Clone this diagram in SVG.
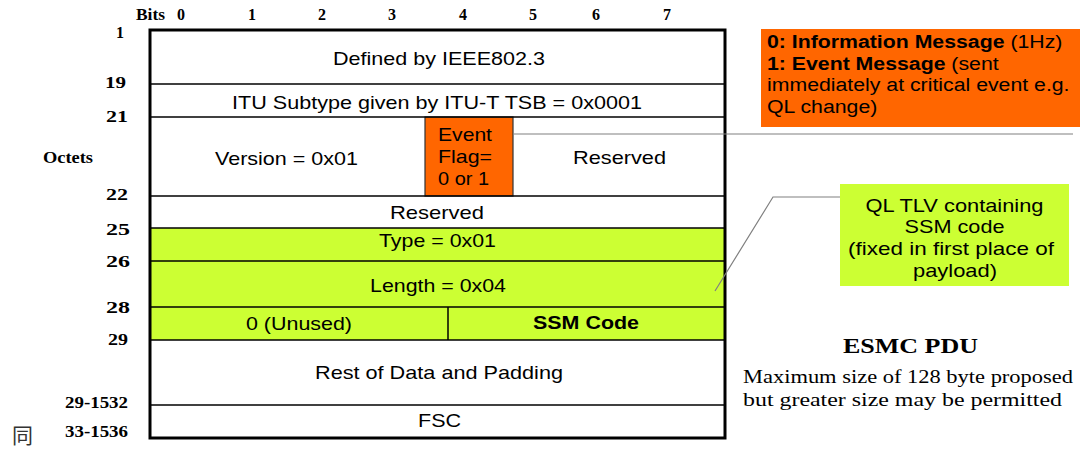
<svg xmlns="http://www.w3.org/2000/svg" width="1081" height="452" viewBox="0 0 1081 452">
<style>
.s{font-family:"Liberation Sans",Arial,sans-serif;font-size:19px;fill:#000}
.c{text-anchor:middle}
.b{font-weight:bold}
.n{font-family:"Liberation Serif","Times New Roman",serif;font-weight:bold;font-size:16px;fill:#000}
.r{text-anchor:end}
.ln{stroke:#000;stroke-width:1.5;fill:none}
.conn{stroke:#808080;stroke-width:1.2;fill:none}
.o{font-family:"Liberation Sans",Arial,sans-serif;font-size:19px;fill:#000}
.t{font-family:"Liberation Serif","Times New Roman",serif;fill:#000}
</style>
<rect width="1081" height="452" fill="#fff"/>
<g id="axis-labels">
<text class="n" x="136" y="20" textLength="29" lengthAdjust="spacingAndGlyphs">Bits</text>
<text class="n c" x="181" y="20">0</text>
<text class="n c" x="252" y="20">1</text>
<text class="n c" x="322" y="20">2</text>
<text class="n c" x="392" y="20">3</text>
<text class="n c" x="463" y="20">4</text>
<text class="n c" x="533" y="20">5</text>
<text class="n c" x="596" y="20">6</text>
<text class="n c" x="667" y="20">7</text>
<text class="n r" x="124" y="38">1</text>
<text class="n r" x="126" y="88" textLength="21" lengthAdjust="spacingAndGlyphs">19</text>
<text class="n r" x="128" y="122" textLength="22" lengthAdjust="spacingAndGlyphs">21</text>
<text class="n" x="43" y="163" textLength="50" lengthAdjust="spacingAndGlyphs">Octets</text>
<text class="n r" x="128" y="200" textLength="22" lengthAdjust="spacingAndGlyphs">22</text>
<text class="n r" x="130" y="235" textLength="24" lengthAdjust="spacingAndGlyphs">25</text>
<text class="n r" x="130" y="267" textLength="24" lengthAdjust="spacingAndGlyphs">26</text>
<text class="n r" x="130" y="313" textLength="24" lengthAdjust="spacingAndGlyphs">28</text>
<text class="n r" x="128" y="345" textLength="20" lengthAdjust="spacingAndGlyphs">29</text>
<text class="n" x="65" y="408" textLength="63" lengthAdjust="spacingAndGlyphs">29-1532</text>
<text class="n" x="65" y="437" textLength="63" lengthAdjust="spacingAndGlyphs">33-1536</text>
<text x="12" y="443" font-family="'Noto Sans CJK SC',sans-serif" font-size="21" fill="#333">同</text>
</g>
<g id="pdu">
<rect x="150" y="228" width="575" height="112" fill="#CCFF33"/>
<rect x="425" y="117" width="88" height="79" fill="#FF6600" stroke="#333" stroke-width="1.2"/>
<line class="ln" x1="150" y1="84" x2="725" y2="84"/>
<line class="ln" x1="150" y1="117" x2="725" y2="117"/>
<line class="ln" x1="150" y1="196" x2="725" y2="196"/>
<line class="ln" x1="150" y1="228" x2="725" y2="228"/>
<line class="ln" x1="150" y1="261" x2="725" y2="261"/>
<line class="ln" x1="150" y1="307" x2="725" y2="307"/>
<line class="ln" x1="150" y1="340" x2="725" y2="340"/>
<line class="ln" x1="150" y1="405" x2="725" y2="405"/>
<line class="ln" x1="448" y1="307" x2="448" y2="340"/>
<rect x="150" y="30" width="575" height="408" fill="none" stroke="#000" stroke-width="3"/>
<text class="s c" x="439" y="65" textLength="212" lengthAdjust="spacingAndGlyphs">Defined by IEEE802.3</text>
<text class="s c" x="437" y="109" textLength="410" lengthAdjust="spacingAndGlyphs">ITU Subtype given by ITU-T TSB = 0x0001</text>
<text class="s c" x="286.5" y="165" textLength="143" lengthAdjust="spacingAndGlyphs">Version = 0x01</text>
<text class="s" x="438" y="141" textLength="54" lengthAdjust="spacingAndGlyphs">Event</text>
<text class="s" x="438" y="163" textLength="54" lengthAdjust="spacingAndGlyphs">Flag=</text>
<text class="s" x="438" y="185" textLength="51" lengthAdjust="spacingAndGlyphs">0 or 1</text>
<text class="s c" x="619.5" y="164" textLength="93" lengthAdjust="spacingAndGlyphs">Reserved</text>
<text class="s c" x="437" y="219" textLength="94" lengthAdjust="spacingAndGlyphs">Reserved</text>
<text class="s c" x="437.5" y="247" textLength="117" lengthAdjust="spacingAndGlyphs">Type = 0x01</text>
<text class="s c" x="438" y="292" textLength="136" lengthAdjust="spacingAndGlyphs">Length = 0x04</text>
<text class="s c" x="299" y="330" textLength="106" lengthAdjust="spacingAndGlyphs">0 (Unused)</text>
<text class="s c b" x="586" y="329" textLength="106" lengthAdjust="spacingAndGlyphs">SSM Code</text>
<text class="s c" x="439" y="379" textLength="248" lengthAdjust="spacingAndGlyphs">Rest of Data and Padding</text>
<text class="s c" x="439.5" y="427" textLength="43" lengthAdjust="spacingAndGlyphs">FSC</text>
</g>
<g id="connectors">
<line class="conn" x1="513" y1="134" x2="1073" y2="134"/>
<polyline class="conn" points="840,197 773,197 715,291"/>
</g>
<g id="event-note">
<rect x="761" y="29" width="319" height="98" fill="#FF6600"/>
<text class="o" transform="translate(767 48) scale(1.12 1)"><tspan font-weight="bold">0: Information Message</tspan> (1Hz)</text>
<text class="o" transform="translate(767 69.5) scale(1.12 1)"><tspan font-weight="bold">1: Event Message</tspan> (sent</text>
<text class="o" transform="translate(767 91) scale(1.12 1)">immediately at critical event e.g.</text>
<text class="o" transform="translate(767 113) scale(1.12 1)">QL change)</text>
</g>
<g id="tlv-note">
<rect x="840" y="184" width="229" height="102" fill="#CCFF33"/>
<text class="s c" x="954.5" y="212" textLength="178" lengthAdjust="spacingAndGlyphs">QL TLV containing</text>
<text class="s c" x="954.5" y="233" textLength="100" lengthAdjust="spacingAndGlyphs">SSM code</text>
<text class="s c" x="951" y="255" textLength="206" lengthAdjust="spacingAndGlyphs">(fixed in first place of</text>
<text class="s c" x="955" y="277" textLength="84" lengthAdjust="spacingAndGlyphs">payload)</text>
</g>
<g id="caption">
<text class="t c" x="910.5" y="353" font-size="22" font-weight="bold" textLength="135" lengthAdjust="spacingAndGlyphs">ESMC PDU</text>
<text class="t" x="743" y="383" font-size="18" textLength="330" lengthAdjust="spacingAndGlyphs">Maximum size of 128 byte proposed</text>
<text class="t" x="743" y="406" font-size="18" textLength="319" lengthAdjust="spacingAndGlyphs">but greater size may be permitted</text>
</g>
</svg>
